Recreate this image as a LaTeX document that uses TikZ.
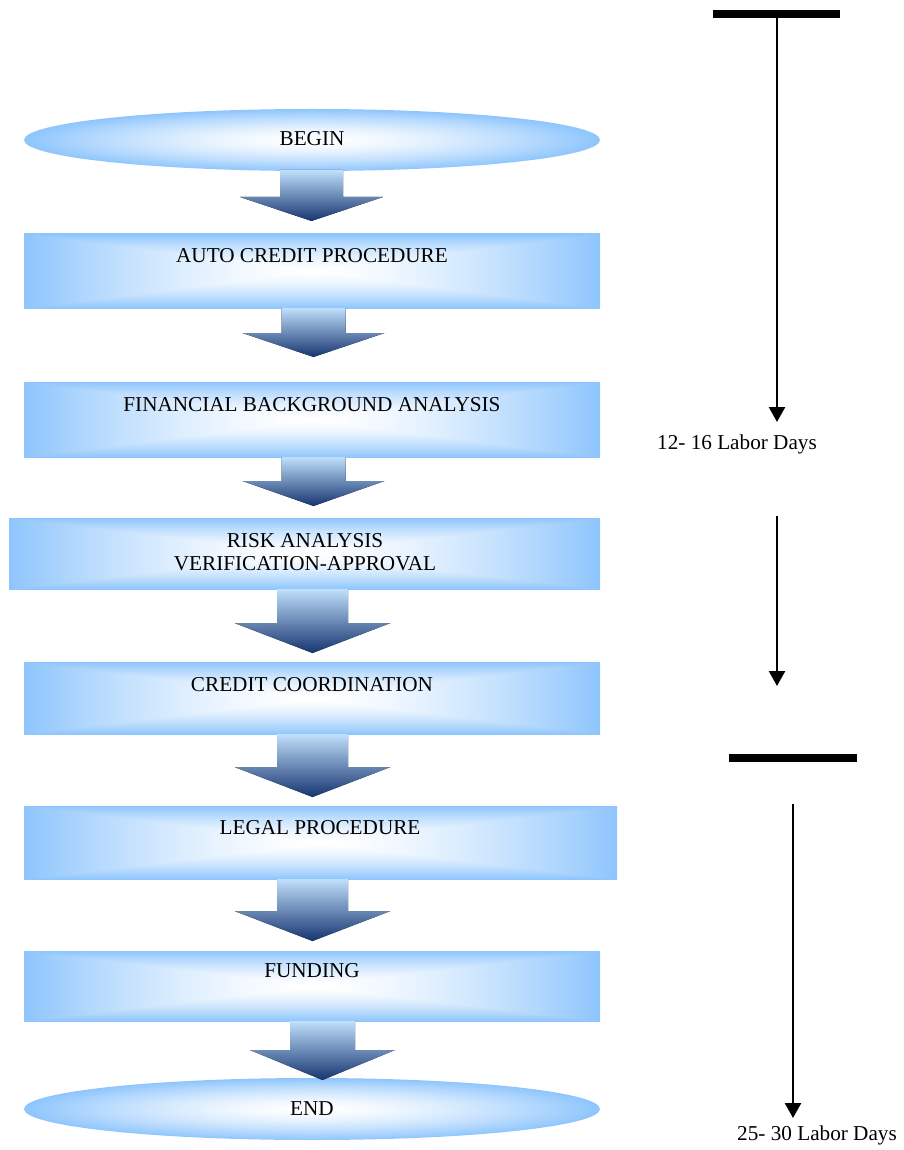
\documentclass[tikz,border=0pt]{standalone}
\usepackage{fontspec}
\setmainfont{Liberation Serif}
\usetikzlibrary{shapes.geometric,arrows.meta}
\definecolor{atop}{RGB}{192,224,252}
\definecolor{abot}{RGB}{22,52,112}
% rectangular "from centre" gradient: white centre, light blue (142,197,253) rim
% (the path's bounding box is the central 50bp square of the 100bp shading)
\pgfdeclarefunctionalshading{boxshade}{\pgfpointorigin}{\pgfpoint{100bp}{100bp}}{}{%
  50 sub abs exch 50 sub abs
  2 copy gt {pop} {exch pop} ifelse
  25 div dup 1 gt {pop 1} if
  1.5 exp
  dup 0.443 mul 1 exch sub
  exch dup 0.227 mul 1 exch sub
  exch 0.008 mul 1 exch sub}
% elliptical gradient for the terminals
\pgfdeclarefunctionalshading{termshade}{\pgfpointorigin}{\pgfpoint{100bp}{100bp}}{}{%
  50 sub dup mul exch 50 sub dup mul add sqrt
  25 div dup 1 gt {pop 1} if
  1.5 exp
  dup 0.443 mul 1 exch sub
  exch dup 0.227 mul 1 exch sub
  exch 0.008 mul 1 exch sub}
\tikzset{
  stepbox/.style={rectangle, draw=none, shading=boxshade, inner sep=0pt},
  term/.style={ellipse, draw=none, shading=termshade, inner sep=0pt, minimum width=576pt, minimum height=62pt},
  lbl/.style={font=\fontsize{21.2}{24}\selectfont, align=center, inner sep=0pt},
  barline/.style={line width=8pt},
  timearrow/.style={line width=2.5pt, -{Triangle[width=16pt,length=15pt]}},
  darkarrow/.style={top color=atop, bottom color=abot, draw=none}
}
% #1 centre x, #2 top y, #3 head y, #4 tip y, #5 half shaft, #6 half head
\newcommand\blkarrow[6]{%
  \fill[darkarrow] (#1-#5,#2) -- (#1+#5,#2) -- (#1+#5,#3) -- (#1+#6,#3) -- (#1,#4) -- (#1-#6,#3) -- (#1-#5,#3) -- cycle;}
\begin{document}
\begin{tikzpicture}[x=1pt,y=-1pt]
\useasboundingbox (0,0) rectangle (903,1150);
% flow shapes
\node[term] (begin) at (312,140) {};
\node[stepbox, minimum width=576pt, minimum height=74pt] (b1) at (312,271) {};
\node[stepbox, minimum width=576pt, minimum height=75pt] (b2) at (312,419.5) {};
\node[stepbox, minimum width=591pt, minimum height=71pt] (b3) at (304.5,553.5) {};
\node[stepbox, minimum width=576pt, minimum height=72pt] (b4) at (312,698) {};
\node[stepbox, minimum width=593pt, minimum height=73pt] (b5) at (320.5,842.5) {};
\node[stepbox, minimum width=576pt, minimum height=70pt] (b6) at (312,986) {};
\node[term] (end) at (312,1109) {};
% labels
\node[lbl] (lbegin) at (312,139) {BEGIN};
\node[lbl] (l1) at (312,256) {AUTO CREDIT PROCEDURE};
\node[lbl] (l2) at (312,405) {FINANCIAL BACKGROUND ANALYSIS};
\node[lbl] (l3a) at (305,541) {RISK ANALYSIS};
\node[lbl] (l3b) at (305,564) {VERIFICATION-APPROVAL};
\node[lbl] (l4) at (312,685) {CREDIT COORDINATION};
\node[lbl] (l5) at (320,828) {LEGAL PROCEDURE};
\node[lbl] (l6) at (312,971) {FUNDING};
\node[lbl] (lend) at (312,1109) {END};
% block arrows
\blkarrow{311.5}{170}{197}{221}{31.5}{71.5}
\blkarrow{313.5}{308}{333}{357}{32}{71}
\blkarrow{313.5}{457}{481}{506}{32}{71}
\blkarrow{312.5}{589}{623}{653}{35.5}{78}
\blkarrow{312.5}{734}{767}{797}{35.5}{78}
\blkarrow{312.5}{879}{911}{941}{35.5}{78}
\blkarrow{322.5}{1021}{1050}{1080}{32.5}{72.5}
% time line
\coordinate (bar1l) at (713,14);
\coordinate (bar1r) at (840,14);
\coordinate (a1s) at (777,18);
\coordinate (a1e) at (777,422);
\coordinate (a2s) at (777,516);
\coordinate (a2e) at (777,686);
\coordinate (bar2l) at (729,757.5);
\coordinate (bar2r) at (857,757.5);
\coordinate (a3s) at (793,804);
\coordinate (a3e) at (793,1118);
\draw[barline] (bar1l) -- (bar1r);
\draw[timearrow] (a1s) -- (a1e);
\draw[timearrow] (a2s) -- (a2e);
\draw[barline] (bar2l) -- (bar2r);
\draw[timearrow] (a3s) -- (a3e);
\node[lbl] (d1) at (737,444) {12- 16 Labor Days};
\node[lbl] (d2) at (817,1135) {25- 30 Labor Days};
\end{tikzpicture}
\end{document}
